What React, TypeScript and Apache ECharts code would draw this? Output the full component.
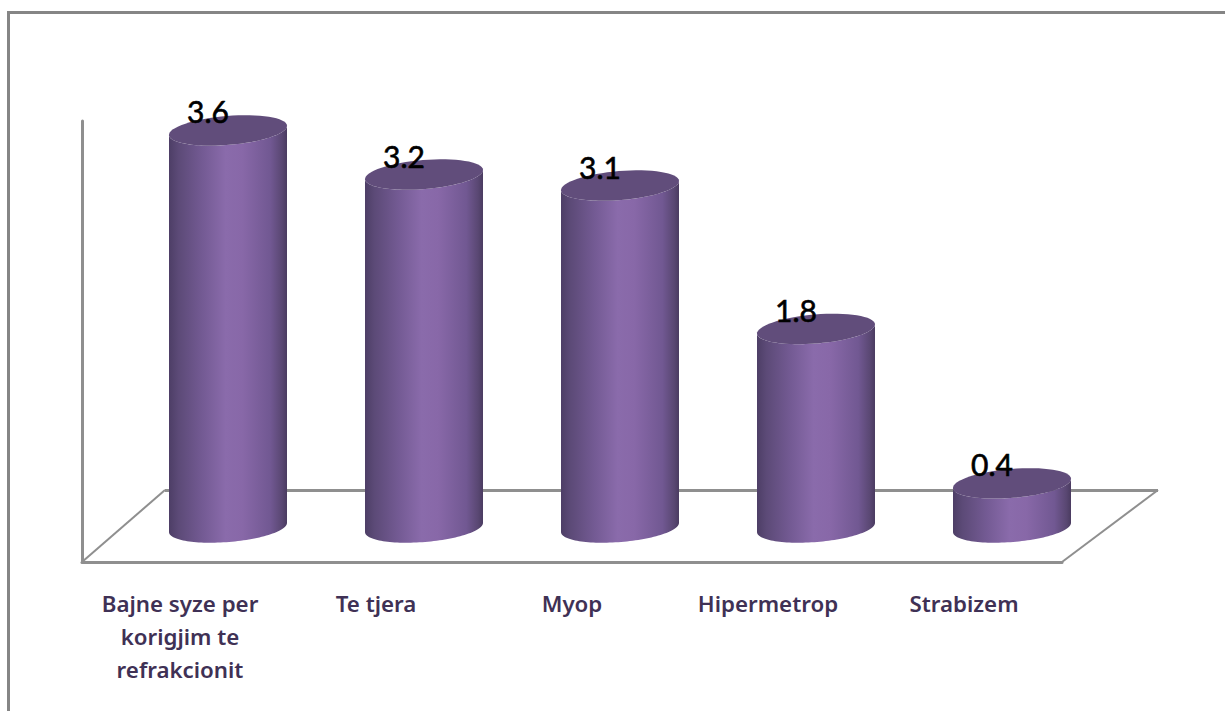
import React, { useEffect, useRef } from "react";
import * as echarts from "echarts";

const categories = ["Bajne syze per\nkorigjim te\nrefrakcionit", "Te tjera", "Myop", "Hipermetrop", "Strabizem"];
const values = [3.6, 3.2, 3.1, 1.8, 0.4];

const FRAME = "#858585";
const FLOOR = "#8f8f8f";

function ellipsePoints(cx: number, cy: number, a: number, b: number, tilt: number, from = 0, to = Math.PI * 2) {
  const pts: number[][] = [];
  const n = 64;
  for (let i = 0; i <= n; i++) {
    const t = from + ((to - from) * i) / n;
    const x = a * Math.cos(t);
    const y = b * Math.sin(t);
    pts.push([cx + x * Math.cos(tilt) - y * Math.sin(tilt), cy + x * Math.sin(tilt) + y * Math.cos(tilt)]);
  }
  return pts;
}

function renderCylinder(_p: any, api: any) {
  const idx = api.value(0);
  const val = api.value(1);
  const [cx, topY] = api.coord([idx, val]);
  const [, baseY] = api.coord([idx, 0]);
  const a = api.size([1, 0])[0] * 0.302;
  const b = 14.5;
  const tilt = -0.082;
  const lower = ellipsePoints(cx, baseY, a, b, tilt, 0, Math.PI);
  const topLower = ellipsePoints(cx, topY, a, b, tilt, 0, Math.PI).reverse();
  const body = [...topLower, ...lower];
  const side = new echarts.graphic.LinearGradient(0, 0, 1, 0, [
    { offset: 0, color: "#4d3e66" },
    { offset: 0.08, color: "#5c4a77" },
    { offset: 0.28, color: "#735a93" },
    { offset: 0.48, color: "#8a6bab" },
    { offset: 0.62, color: "#8868a8" },
    { offset: 0.86, color: "#715892" },
    { offset: 0.96, color: "#594772" },
    { offset: 1, color: "#4a3b60" },
  ]);
  return {
    type: "group",
    children: [
      { type: "polygon", shape: { points: body }, style: { fill: side } },
      { type: "polygon", shape: { points: ellipsePoints(cx, topY, a, b, tilt) }, style: { fill: "#614d7b" } },
      {
        type: "text",
        style: {
          x: cx - 20,
          y: topY - 19,
          text: val.toFixed(1),
          fill: "#000000",
          stroke: "#000000",
          lineWidth: 0.6,
          font: "30px Lato, sans-serif",
          align: "center",
          verticalAlign: "middle",
        },
      },
    ],
  };
}

export default function App() {
  const ref = useRef<HTMLDivElement>(null);
  useEffect(() => {
    const chart = echarts.init(ref.current!, undefined, { renderer: "svg" });
    chart.setOption({
      animation: false,
      backgroundColor: "#ffffff",
      grid: [
        { left: 130, width: 980, top: 86.3, height: 441.2 },
        { left: 82, width: 980, top: 121, height: 441 },
      ],
      xAxis: [
        { type: "category", gridIndex: 0, data: categories, show: false },
        {
          type: "category",
          gridIndex: 1,
          data: categories,
          axisTick: { show: false },
          axisLine: { lineStyle: { color: FLOOR, width: 3 } },
          axisLabel: {
            margin: 25,
            interval: 0,
            color: "#3f3155",
            fontFamily: "'Noto Sans', sans-serif",
            fontWeight: 600,
            fontSize: 22.3,
            lineHeight: 33,
            align: "center",
          },
        },
      ],
      yAxis: [
        { type: "value", gridIndex: 0, min: 0, max: 4, show: false },
        {
          type: "value",
          gridIndex: 1,
          min: 0,
          max: 4,
          axisTick: { show: false },
          axisLabel: { show: false },
          splitLine: { show: false },
          axisLine: { show: true, lineStyle: { color: FLOOR, width: 3 } },
        },
      ],
      graphic: [
        { type: "polyline", z: 0, shape: { points: [[8.5, 711], [8.5, 12.5], [1225, 12.5]] }, style: { fill: "none", stroke: FRAME, lineWidth: 3 } },
        { type: "polyline", z: 0, shape: { points: [[165, 490.5], [1158, 490.5]] }, style: { fill: "none", stroke: FLOOR, lineWidth: 3 } },
        { type: "line", z: 0, shape: { x1: 82, y1: 562, x2: 165, y2: 490 }, style: { stroke: FLOOR, lineWidth: 2 } },
        { type: "line", z: 0, shape: { x1: 1158, y1: 490, x2: 1062, y2: 562 }, style: { stroke: FLOOR, lineWidth: 2 } },
      ],
      series: [
        {
          type: "custom",
          xAxisIndex: 0,
          yAxisIndex: 0,
          z: 5,
          silent: true,
          clip: false,
          renderItem: renderCylinder,
          encode: { x: 0, y: 1 },
          data: values.map((v, i) => [i, v]),
        },
      ],
    });
    return () => chart.dispose();
  }, []);
  return <div ref={ref} style={{ position: "fixed", left: 0, top: 0, width: 1225, height: 711 }} />;
}
